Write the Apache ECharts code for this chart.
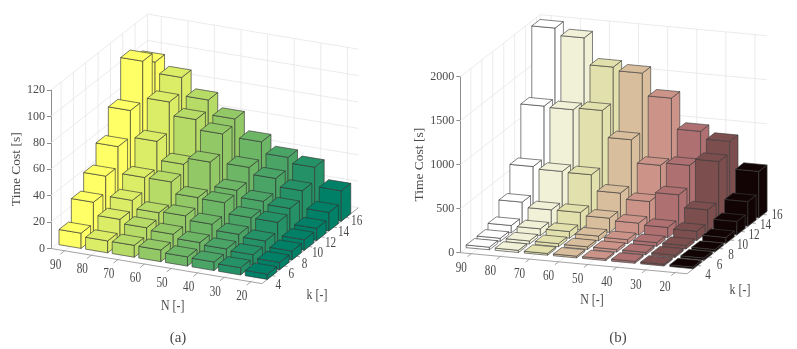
<!DOCTYPE html>
<html><head><meta charset="utf-8">
<script src="https://cdn.jsdelivr.net/npm/echarts@6/dist/echarts.min.js"></script>
<style>html,body{margin:0;padding:0;background:#fff}#c{width:797px;height:349px}</style>
</head><body><div id="c"></div>
<script>
const nValues=[90,80,70,60,50,40,30,20];
const kValues=[4,6,8,10,12,14,16];
const zTicksA=[0,20,40,60,80,100,120];
const zTicksB=[0,500,1000,1500,2000];
// panel (a): time cost per k, one list per N
const a90=[11.5,27.6,40,55,75,105,97];
const a80=[9,18,25,35,55,77.5,88.7];
const a70=[9,15,19,35,41,67.5,75];
const a60=[8.8,13.4,20,26.5,46,60,64];
const a50=[7,10.5,17,26,28,38,50];
const a40=[6.5,9,12.7,18,23,33,41.6];
const a30=[5.5,8,11,17.8,21,27,37.5];
const a20=[4,5.5,6.8,8,9.2,14,23];
// panel (b)
const b90=[30,35,83,252,560,1150,1940];
const b80=[25,35,76,195,535,1140,1860];
const b70=[20,35,76,196,528,1162,1558];
const b60=[20,30,55,162,350,860,1520];
const b50=[20,30,45,136,285,600,1267];
const b40=[22,28,42,118,392,630,920];
const b30=[20,28,40,105,252,705,836];
const b20=[20,25,25,65,150,280,526];
const colorsA=['#ffff66','#dbed66','#b6db66','#92c966','#6db666','#49a466','#249266','#008066'];
const colorsB=['#ffffff','#f1f1d8','#e2e0ac','#d8be9c','#cc9488','#ae7070','#7c4e4e','#120404'];

const panelA={tag:'(a)',rows:[a90,a80,a70,a60,a50,a40,a30,a20],colors:colorsA,zTicks:zTicksA,zMax:120,
 left:51,zBottom:248.5,zTop:90,stepX:26.6,slope:0.1665,kx:12.33,ky:-9.7,nPad:0.514,kPad:0.821,nSpan:7.93,kSpan:7.83,
 wN:0.83,wK:0.77,edge:'rgba(50,50,50,0.8)',
 nLab:[-9,14.5],kLab0:[6.3,9.4],kLab1:[10.6,4.3],nName:[172.7,306],kName:[317,295],tagPos:[178,338],nameGap:23};
const panelB={tag:'(b)',rows:[b90,b80,b70,b60,b50,b40,b30,b20],colors:colorsB,zTicks:zTicksB,zMax:2000,
 left:460.3,zBottom:252.7,zTop:76.7,stepX:29.1,slope:0.0928,kx:10.95,ky:-8.5,nPad:0.378,kPad:0.967,nSpan:7.79,kSpan:7.3,
 wN:0.8,wK:0.76,edge:'rgba(60,60,60,0.8)',
 nLab:[-10,15],kLab0:[10.4,10.2],kLab1:[13.7,0.9],nName:[592,300],kName:[740,290],tagPos:[618,338],nameGap:27};
const FONT='"Liberation Serif","Times New Roman",serif';
const TXT='#4a4a4a', GRIDC='#e6e6e6', AXC='#8c8c8c';

function projector(P,api){
  return (n,kPos,z)=>{const c=api.coord([n,z]);const dx=c[0]-P.left;
    return [c[0]+kPos*P.kx,c[1]+dx*P.slope+kPos*P.ky];};
}
const kToPos=(P,k)=>P.kPad+(k-kValues[0])/2;
const nEdge=(P)=>nValues[0]+P.nPad*10;
const nEnd=(P)=>nEdge(P)-P.nSpan*10;

function barRender(P){
  return (params,api)=>{
    const n=api.value(0),k=kToPos(P,api.value(1)),z=api.value(2),pr=projector(P,api);
    const dn=P.wN*5,dk=P.wK/2;
    const nL=n+dn,nR=n-dn,k0=k-dk,k1=k+dk;
    const fill=P.colors[nValues.indexOf(n)];
    const style={fill,stroke:P.edge,lineWidth:0.8};
    const poly=(pts)=>({type:'polygon',shape:{points:pts},style,silent:true});
    return {type:'group',children:[
      poly([pr(nL,k0,z),pr(nR,k0,z),pr(nR,k0,0),pr(nL,k0,0)]),
      poly([pr(nR,k0,z),pr(nR,k1,z),pr(nR,k1,0),pr(nR,k0,0)]),
      poly([pr(nL,k0,z),pr(nL,k1,z),pr(nR,k1,z),pr(nR,k0,z)])
    ]};
  };
}
function frameRender(P){
  return (params,api)=>{
    const pr=projector(P,api),N0=nEdge(P),N1=nEnd(P),K=P.kSpan,kids=[];
    const line=(a,b,c,w)=>kids.push({type:'line',shape:{x1:a[0],y1:a[1],x2:b[0],y2:b[1]},style:{stroke:c,lineWidth:w||0.8},silent:true});
    const text=(pos,s,size,sx)=>kids.push({type:'text',x:pos[0],y:pos[1],scaleX:sx||1,style:{text:s,font:size+'px '+FONT,fill:TXT,align:'center',verticalAlign:'middle'},silent:true});
    // walls and floor
    P.zTicks.forEach(z=>{line(pr(N0,0,z),pr(N0,K,z),GRIDC);line(pr(N0,K,z),pr(N1,K,z),GRIDC);});
    nValues.forEach(n=>{line(pr(n,0,0),pr(n,K,0),GRIDC);line(pr(n,K,0),pr(n,K,P.zMax),GRIDC);});
    kValues.forEach(v=>{const kp=kToPos(P,v);line(pr(N0,kp,0),pr(N1,kp,0),GRIDC);line(pr(N0,kp,0),pr(N0,kp,P.zMax),GRIDC);});
    line(pr(N0,K,0),pr(N0,K,P.zMax),GRIDC);
    // front edges and ticks
    line(pr(N0,0,0),pr(N1,0,0),AXC);
    line(pr(N1,0,0),pr(N1,K,0),AXC);
    nValues.forEach(n=>{const t=pr(n,0,0),u=pr(n,-0.35,0);line(t,u,AXC);
      text([t[0]+P.nLab[0],t[1]+P.nLab[1]],String(n),14,0.8);});
    kValues.forEach((v,i)=>{const kp=kToPos(P,v);const t=pr(N1,kp,0),u=pr(N1-1.2,kp,0);line(t,u,AXC);
      const f=i/(kValues.length-1);
      text([t[0]+P.kLab0[0]+f*(P.kLab1[0]-P.kLab0[0]),t[1]+P.kLab0[1]+f*(P.kLab1[1]-P.kLab0[1])],String(v),14,0.8);});
    text(P.nName,'N [-]',14,0.85);
    text(P.kName,'k [-]',14,0.85);
    text(P.tagPos,P.tag,15);
    return {type:'group',children:kids};
  };
}
const panels=[panelA,panelB];
const grids=[],xAxes=[],yAxes=[],series=[];
panels.forEach((P,idx)=>{
  grids.push({left:P.left,top:P.zTop,width:P.nSpan*P.stepX,height:P.zBottom-P.zTop,containLabel:false});
  xAxes.push({type:'value',gridIndex:idx,show:false,inverse:true,min:nEnd(P),max:nEdge(P),splitLine:{show:false}});
  yAxes.push({type:'value',gridIndex:idx,min:0,max:P.zMax,interval:P.zTicks[1]-P.zTicks[0],position:'left',
    name:'Time Cost [s]',nameLocation:'middle',nameGap:P.nameGap,nameRotate:90,
    nameTextStyle:{fontFamily:FONT,fontSize:13.5,color:TXT},
    axisLine:{show:true,onZero:false,lineStyle:{color:AXC,width:1}},
    axisTick:{show:true,length:4,lineStyle:{color:AXC,width:1}},
    axisLabel:{fontFamily:FONT,fontSize:12,color:TXT,margin:6,formatter:v=>String(v)},
    splitLine:{show:false}});
  series.push({type:'custom',xAxisIndex:idx,yAxisIndex:idx,z:1,clip:false,silent:true,
    data:[[nValues[0],kValues[0],0]],encode:{x:0,y:2},renderItem:frameRender(P)});
  const data=[];
  for(let j=kValues.length-1;j>=0;j--){
    nValues.forEach((n,i)=>data.push([n,kValues[j],P.rows[i][j]]));
  }
  series.push({type:'custom',xAxisIndex:idx,yAxisIndex:idx,z:2,clip:false,silent:true,
    data,encode:{x:0,y:2},renderItem:barRender(P)});
});
const chart=echarts.init(document.getElementById('c'),null,{renderer:'canvas'});
chart.setOption({animation:false,backgroundColor:'#ffffff',grid:grids,xAxis:xAxes,yAxis:yAxes,series});
</script></body></html>
